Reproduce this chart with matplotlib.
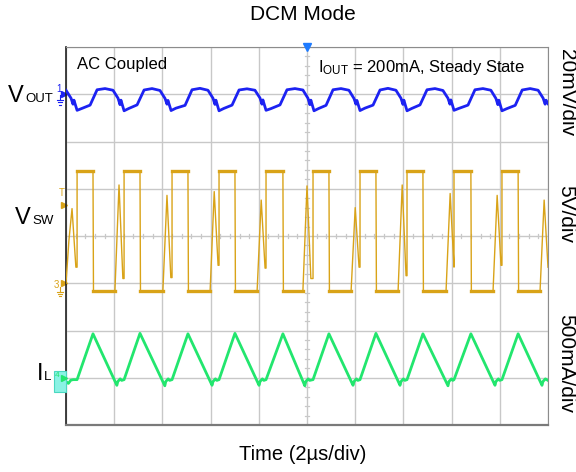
import numpy as np
import matplotlib.pyplot as plt
from matplotlib.patches import Rectangle

plt.rcParams['font.family'] = ['Liberation Sans', 'DejaVu Sans']

# scope settings
us_per_div = 2.0
vout_mv_per_div = 20.0
vsw_v_per_div = 5.0
il_ma_per_div = 500.0
vout_pos = 7.0   # ground reference of each channel, in divisions
vsw_pos = 3.0
il_pos = 1.0

# VSW switching node, one entry per cycle (us / V)
vsw_rise_us = [0.46, 2.41, 4.40, 6.35, 8.30, 10.25, 12.20, 14.15, 16.10, 18.09]
vsw_fall_us = [1.12, 3.07, 5.06, 7.01, 9.00, 10.91, 12.86, 14.81, 16.80, 18.76]
vsw_ring_us = [2.03, 4.02, 5.98, 7.93, 9.83, 11.83, 13.78, 15.77, 17.72, 19.67]
vsw_ring_peak_v = [10.4, 9.3, 9.7, 8.8, 10.3, 8.0, 10.4, 9.5, 9.3, 8.8]
vsw_ring_dip_v = [0.5, 0.6, 1.9, 1.6, 0.5, 1.7, 0.8, 1.7, 1.9, 1.7]
vsw_high_v = 11.9
vsw_low_v = -0.8
vsw_start_us = [0.0, 0.12, 0.25, 0.41]
vsw_start_v = [0.0, 4.5, 7.9, 1.7]

# inductor current (mA)
il_peak_ma = [465, 470, 465, 470, 465, 465, 470, 465, 465, 465]
il_valley_ma = [-80, -85, -80, -80, -85, -80, -80, -85, -80, -80]
il_start_us = [0.0, 0.10, 0.20, 0.30]
il_start_ma = [-40, -60, -25, -20]

# output ripple (mV), AC coupled
vout_t = [0.00, 0.21, 0.29, 0.33, 0.46, 0.66,
          1.00, 1.29, 1.62, 1.95, 2.16, 2.24, 2.28, 2.41, 2.61,
          2.95, 3.24, 3.57, 3.90, 4.11, 4.19, 4.23, 4.36, 4.56,
          4.94, 5.23, 5.56, 5.89, 6.10, 6.18, 6.22, 6.35, 6.55,
          6.89, 7.18, 7.51, 7.84, 8.05, 8.13, 8.17, 8.30, 8.50,
          8.88, 9.17, 9.50, 9.83, 10.04, 10.12, 10.16, 10.29, 10.49,
          10.79, 11.08, 11.41, 11.74, 11.95, 12.03, 12.07, 12.20, 12.40,
          12.74, 13.03, 13.36, 13.69, 13.90, 13.98, 14.02, 14.15, 14.35,
          14.69, 14.98, 15.31, 15.64, 15.85, 15.93, 15.97, 16.10, 16.30,
          16.68, 16.97, 17.30, 17.63, 17.84, 17.92, 17.96, 18.09, 18.29,
          18.64, 18.93, 19.26, 19.59, 19.80, 19.88, 19.92, 20.00]
vout_mv = [1.7, -1.7, -4.2, -2.5, -6.8, -6.0,
           -4.6, 1.9, 2.4, 1.7, -1.7, -4.4, -2.5, -7.0, -6.0,
           -4.5, 1.8, 2.4, 1.6, -1.8, -4.2, -2.6, -6.9, -5.9,
           -4.7, 1.9, 2.5, 1.7, -1.7, -4.3, -2.5, -7.0, -6.0,
           -4.6, 1.8, 2.3, 1.7, -1.6, -4.2, -2.4, -6.8, -6.1,
           -4.5, 1.9, 2.4, 1.8, -1.7, -4.4, -2.5, -7.0, -6.0,
           -4.7, 1.9, 2.4, 1.7, -1.8, -4.2, -2.6, -6.9, -5.9,
           -4.6, 1.8, 2.5, 1.7, -1.7, -4.3, -2.5, -7.0, -6.0,
           -4.5, 1.9, 2.4, 1.6, -1.7, -4.2, -2.4, -6.8, -6.0,
           -4.6, 1.9, 2.4, 1.7, -1.8, -4.4, -2.5, -7.0, -6.1,
           -4.7, 1.8, 2.4, 1.7, -1.7, -4.2, -2.5, -4.0]

c_vout = '#1c22f2'
c_vsw = '#d9a318'
c_il = '#22e66e'
c_grid = '#c8c8c8'

# build the polylines from the per-cycle readings
vsw_t = list(vsw_start_us)
vsw_v = list(vsw_start_v)
il_t = list(il_start_us)
il_v = list(il_start_ma)
for k in range(len(vsw_rise_us)):
    r, f, g = vsw_rise_us[k], vsw_fall_us[k], vsw_ring_us[k]
    vsw_t += [r, r, f, f + 0.02, g, g + 0.17, min(g + 0.33, 20.0)]
    vsw_v += [vsw_ring_dip_v[k - 1] if k else 1.7, vsw_high_v, vsw_high_v, vsw_low_v,
              vsw_low_v, vsw_ring_peak_v[k], vsw_ring_dip_v[k]]
    il_t += [r, f, g + 0.08, g + 0.12, g + 0.22, g + 0.28]
    il_v += [-20, il_peak_ma[k], il_valley_ma[k], -40, -12, -28]
il_t[-1] = 20.0

x_vsw = np.array(vsw_t) / us_per_div
y_vsw = vsw_pos + np.array(vsw_v) / vsw_v_per_div
x_il = np.array(il_t) / us_per_div
y_il = il_pos + np.array(il_v) / il_ma_per_div
x_vout = np.array(vout_t) / us_per_div
y_vout = vout_pos + np.array(vout_mv) / vout_mv_per_div

fig = plt.figure(figsize=(5.76, 4.72), dpi=100)
ax = fig.add_axes([66 / 576, 47 / 472, 482 / 576, 378 / 472])
ax.set_xlim(0, 10)
ax.set_ylim(0, 8)
ax.set_xticks(range(11))
ax.set_yticks(range(9))
ax.tick_params(length=0, labelbottom=False, labelleft=False)
ax.grid(True, color=c_grid, lw=1.0)
ax.set_axisbelow(True)
for side in ['top', 'right']:
    ax.spines[side].set_color('#8c8c8c')
ax.spines['bottom'].set_color('#7a7a7a')
ax.spines['bottom'].set_linewidth(1.6)
ax.spines['left'].set_color('#202020')
ax.spines['left'].set_linewidth(1.2)

# minor ticks on the centre lines
for m in np.arange(0, 10.01, 0.2):
    ax.plot([m, m], [3.95, 4.05], color=c_grid, lw=0.9, zorder=1)
for m in np.arange(0, 8.01, 0.2):
    ax.plot([4.95, 5.05], [m, m], color=c_grid, lw=0.9, zorder=1)

# traces
ax.plot(x_vout, y_vout, color=c_vout, lw=2.0, zorder=3)
ax.plot(x_vsw, y_vsw, color=c_vsw, lw=1.0, zorder=3)
for k in range(len(vsw_rise_us)):
    ax.plot(np.array([vsw_rise_us[k], vsw_fall_us[k]]) / us_per_div,
            [vsw_pos + vsw_high_v / vsw_v_per_div] * 2, color=c_vsw, lw=2.4, zorder=3)
    ax.plot(np.array([vsw_fall_us[k], vsw_ring_us[k]]) / us_per_div,
            [vsw_pos + vsw_low_v / vsw_v_per_div] * 2, color=c_vsw, lw=2.4, zorder=3)
ax.plot(x_il, y_il, color=c_il, lw=2.0, zorder=3)

# trigger marker at the top
ax.plot([5], [8.0], marker='v', ms=6, color='#1e7bff', clip_on=False, zorder=5)


def ground(x, y, color):
    ax.plot([x, x], [y, y - 0.1], color=color, lw=0.8, clip_on=False)
    for i, w in enumerate([0.06, 0.04, 0.02]):
        ax.plot([x - w, x + w], [y - 0.1 - i * 0.05] * 2, color=color, lw=0.8, clip_on=False)


# channel markers on the left edge
ax.text(-0.15, 7.12, '1', color=c_vout, fontsize=7, ha='center', va='center')
ax.plot([-0.05], [7.0], marker='>', ms=4, color=c_vout, clip_on=False)
ground(-0.13, 6.98, c_vout)

ax.text(-0.08, 4.9, 'T', color=c_vsw, fontsize=7, ha='center', va='center')
ax.plot([-0.05], [4.66], marker='>', ms=4, color=c_vsw, clip_on=False)
ax.text(-0.2, 2.97, '3', color=c_vsw, fontsize=7, ha='center', va='center')
ax.plot([-0.05], [3.0], marker='>', ms=4, color=c_vsw, clip_on=False)
ground(-0.13, 2.92, c_vsw)

ax.add_patch(Rectangle((-0.25, 0.70), 0.26, 0.44, facecolor='#8af2e4', edgecolor='#4ad8c0',
                       lw=0.8, clip_on=False, zorder=4))
ax.text(-0.19, 1.05, '4', color=c_il, fontsize=6, ha='center', va='center', zorder=5)
ax.plot([-0.05], [1.0], marker='>', ms=4, color=c_il, clip_on=False, zorder=5)
ground(-0.13, 0.98, c_il)

# texts
ax.text(0.23, 7.62, 'AC Coupled', fontsize=12, ha='left', va='center')
ax.text(5.23, 7.57, r'$\mathregular{I_{OUT}}$ = 200mA, Steady State', fontsize=12,
        ha='left', va='center')

fig.text(303 / 576, 1 - 15 / 472, 'DCM Mode', fontsize=15, ha='center', va='center')
fig.text(303 / 576, 1 - 455 / 472, 'Time (2µs/div)', fontsize=14.5, ha='center', va='center')

fig.text(566 / 576, 1 - 93 / 472, '20mV/div', fontsize=15, rotation=-90, ha='center', va='center')
fig.text(566 / 576, 1 - 214 / 472, '5V/div', fontsize=15, rotation=-90, ha='center', va='center')
fig.text(566 / 576, 1 - 364 / 472, '500mA/div', fontsize=15, rotation=-90, ha='center', va='center')


def channel_label(x_main, x_sub, y_base, main, sub):
    fig.text(x_main / 576, 1 - y_base / 472, main, fontsize=17, ha='left', va='baseline')
    fig.text(x_sub / 576, 1 - y_base / 472, sub, fontsize=9.5, ha='left', va='baseline')


channel_label(8, 25, 102, 'V', 'OUT')
channel_label(15, 32, 224, 'V', 'SW')
channel_label(37, 44, 380, 'I', 'L')

fig.savefig('out.png', dpi=100)
